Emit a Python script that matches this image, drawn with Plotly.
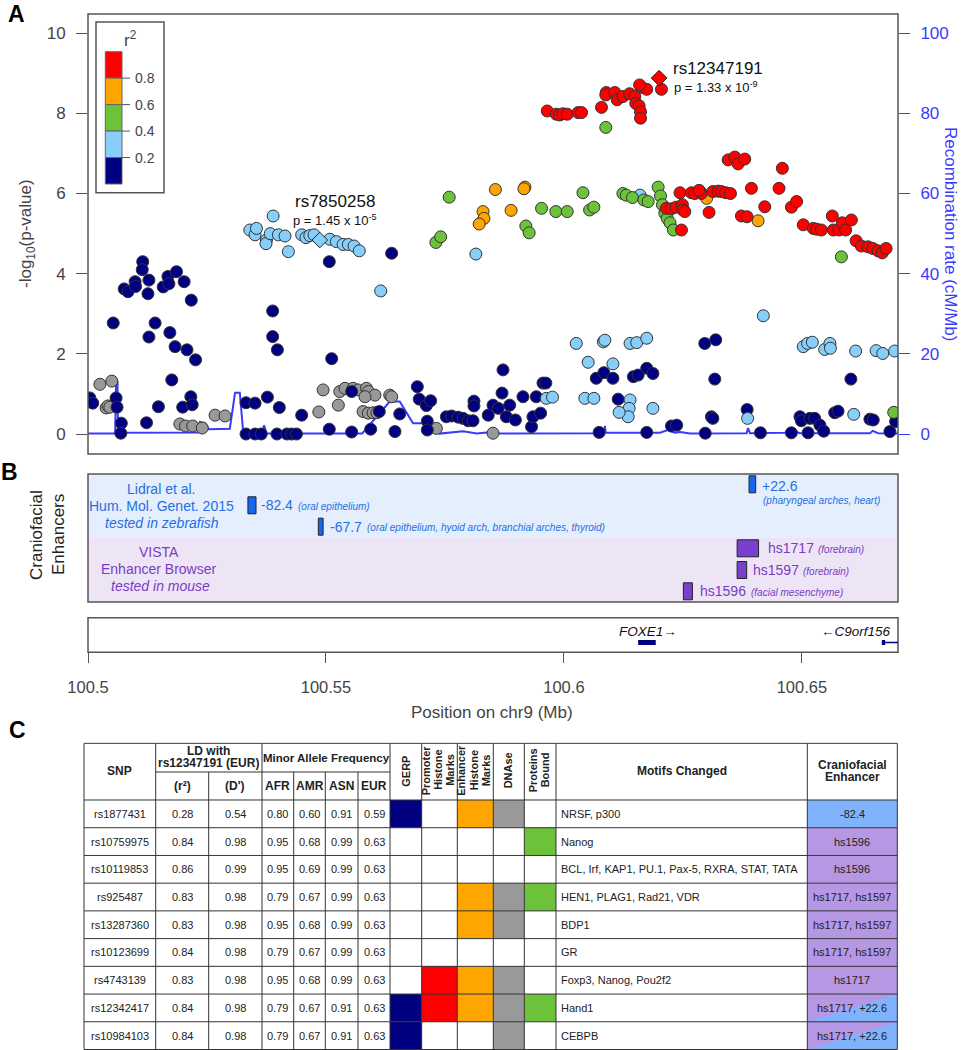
import plotly.graph_objects as go

W, H = 966, 1050
FONT = "Liberation Sans, Arial, Helvetica, sans-serif"

# ---------------- Panel A data: (position on chr9 in Mb, -log10 p) ----------------
GRAY_SNPS = [(100.5025,1.24),(100.5050,1.32),(100.5038,0.65),(100.5042,0.70),(100.5046,0.67),
             (100.5193,0.25),(100.5205,0.20),(100.5220,0.20),(100.5240,0.15),(100.5267,0.47),
             (100.5288,0.45),(100.5485,0.55),(100.5494,1.10),(100.5529,1.06),(100.5540,1.14),
             (100.5557,1.14),(100.5568,1.10),(100.5585,1.14),(100.5589,1.06),(100.5603,0.97),
             (100.5526,0.72),(100.5582,0.93),(100.5578,0.56),(100.5589,0.52),(100.5599,0.53),
             (100.5607,0.53),(100.5634,0.97),(100.5638,0.93),(100.5732,0.14),(100.5851,0.02)]

NAVY_SNPS = [(100.5004,0.90),(100.5010,0.77),(100.5053,2.77),(100.5059,0.90),(100.5061,0.67),
             (100.5070,0.27),(100.5069,0.02),(100.5076,3.62),(100.5084,3.55),(100.5099,3.80),
             (100.5100,3.68),(100.5115,4.30),(100.5114,4.10),(100.5128,3.84),(100.5126,3.50),
             (100.5123,0.28),(100.5128,2.42),(100.5141,2.77),(100.5148,0.68),(100.5158,3.67),
             (100.5168,3.93),(100.5170,3.75),(100.5186,4.05),(100.5172,2.53),(100.5176,1.35),
             (100.5183,2.18),(100.5202,3.80),(100.5208,2.10),(100.5217,3.34),(100.5226,1.85),
             (100.5199,0.67),(100.5216,0.93),(100.5219,0.73),(100.5332,0.78),(100.5351,0.77),
             (100.5332,0.00),(100.5351,0.00),(100.5364,0.00),(100.5377,0.92),(100.5388,3.07),
             (100.5388,2.43),(100.5398,2.10),(100.5402,0.66),(100.5397,0.00),(100.5418,0.00),
             (100.5428,0.00),(100.5438,0.00),(100.5449,0.47),(100.5507,4.30),(100.5512,1.88),
             (100.5507,0.12),(100.5554,1.06),(100.5554,0.05),(100.5594,0.12),(100.5645,0.06),
             (100.5612,0.56),(100.5655,0.50),(100.5692,1.18),(100.5696,0.87),(100.5711,0.71),
             (100.5720,0.83),(100.5713,0.32),(100.5713,0.10),(100.5753,0.43),(100.5764,0.45),
             (100.5778,0.42),(100.5788,0.39),(100.5799,0.33),(100.5809,0.33),(100.5811,0.82),
             (100.5811,0.70),(100.5841,0.47),(100.5851,0.72),(100.5862,0.64),(100.5870,1.02),
             (100.5872,1.60),(100.5879,0.43),(100.5886,0.72),(100.5898,0.35),(100.5914,0.93),
             (100.5932,0.18),(100.5935,0.43),(100.5942,0.93),(100.5951,0.52),(100.5956,1.27),
             (100.5962,1.27),(100.6074,0.04),(100.6068,1.39),(100.6084,1.53),(100.6103,1.39),
             (100.6114,0.87),(100.6146,1.43),(100.6156,1.47),(100.6174,1.64),(100.6174,0.04),
             (100.5638,4.51),(100.6187,1.51),(100.6296,2.26),(100.6319,2.35),(100.6317,1.37),
             (100.6603,1.37),(100.6226,0.20),(100.6237,0.22),(100.6297,0.02),(100.6310,0.43),
             (100.6313,0.39),(100.6385,0.61),(100.6413,0.03),(100.6478,0.03),(100.6496,0.43),
             (100.6499,0.33),(100.6513,0.03),(100.6517,0.39),(100.6527,0.39),(100.6538,0.22),
             (100.6546,0.07),(100.6569,0.53),(100.6576,0.57),(100.6643,0.37),(100.6650,0.35),
             (100.6685,0.06),(100.6697,0.31)]

LIGHTBLUE_SNPS = [(100.5389,5.44),(100.5340,5.09),(100.5351,4.97),(100.5354,5.13),(100.5375,4.84),
                  (100.5374,4.75),(100.5383,5.00),(100.5400,4.97),(100.5414,4.94),(100.5421,4.55),
                  (100.5449,4.97),(100.5458,4.90),(100.5466,4.95),(100.5475,4.97),(100.5508,4.86),
                  (100.5522,4.80),(100.5536,4.73),(100.5547,4.73),(100.5559,4.69),(100.5570,4.57),
                  (100.5615,3.57),(100.5815,4.49),(100.6160,5.96),(100.6026,2.26),(100.6083,2.30),
                  (100.6086,2.34),(100.6139,2.26),(100.6153,2.28),(100.6174,2.39),(100.6051,1.79),
                  (100.6103,1.75),(100.5963,0.89),(100.5976,0.92),(100.6044,0.89),(100.6063,0.89),
                  (100.6139,0.85),(100.6137,0.64),(100.6135,0.43),(100.6116,0.54),(100.6187,0.64),
                  (100.6419,2.95),(100.6503,2.18),(100.6512,2.26),(100.6522,2.29),(100.6548,2.11),
                  (100.6559,2.26),(100.6560,2.14),(100.6613,2.07),(100.6656,2.08),(100.6670,2.01),
                  (100.6695,2.07),(100.6386,0.39),(100.6609,0.49)]

GREEN_SNPS = [(100.5759,5.91),(100.5731,4.78),(100.5741,4.92),(100.5920,5.19),(100.5927,5.02),
              (100.5953,5.63),(100.5983,5.55),(100.6007,5.55),(100.6040,6.02),(100.6054,5.59),
              (100.6063,5.66),(100.6088,7.65),(100.6124,6.00),(100.6131,5.96),(100.6144,5.90),
              (100.6168,5.84),(100.6177,5.80),(100.6198,6.16),(100.6203,5.94),(100.6207,5.72),
              (100.6212,5.51),(100.6217,5.38),(100.6223,5.27),(100.6230,5.09),(100.6583,4.42),
              (100.6693,0.54)]

ORANGE_SNPS = [(100.5856,6.10),(100.5918,6.16),(100.5916,6.12),(100.5830,5.55),(100.5832,5.38),
               (100.5822,5.24),(100.5889,5.58),(100.6300,5.88),(100.6408,5.32)]

RED_SNPS = [(100.5965,8.06),(100.5984,7.98),(100.5991,7.96),(100.5998,7.99),(100.6007,7.98),
            (100.6030,8.02),(100.6037,8.02),(100.6079,8.15),(100.6089,8.52),(100.6088,8.46),
            (100.6107,8.52),(100.6112,8.34),(100.6124,8.42),(100.6138,8.49),(100.6149,8.42),
            (100.6151,8.25),(100.6158,8.19),(100.6161,8.04),(100.6161,7.88),(100.6163,8.65),
            (100.6174,8.60),(100.6159,8.71),(100.6205,8.60),(100.6345,6.84),(100.6359,6.91),
            (100.6366,6.74),(100.6380,6.86),(100.6459,6.63),(100.6244,6.02),(100.6268,6.02),
            (100.6275,6.00),(100.6286,6.05),(100.6289,6.00),(100.6284,6.08),(100.6313,6.05),
            (100.6324,6.06),(100.6331,6.05),(100.6340,6.02),(100.6350,6.00),(100.6305,5.53),
            (100.6394,6.13),(100.6373,5.44),(100.6385,5.42),(100.6422,5.67),(100.6452,6.13),
            (100.6478,5.66),(100.6489,5.80),(100.6503,5.22),(100.6215,5.63),(100.6226,5.62),
            (100.6236,5.66),(100.6249,5.72),(100.6250,5.59),(100.6254,5.55),(100.6247,5.09),
            (100.6524,5.13),(100.6531,5.11),(100.6541,5.09),(100.6564,5.44),(100.6566,5.09),
            (100.6578,5.09),(100.6585,5.27),(100.6592,5.09),(100.6604,5.34),(100.6614,4.82),
            (100.6625,4.69),(100.6639,4.67),(100.6649,4.63),(100.6660,4.57),(100.6669,4.52),
            (100.6677,4.63)]

LEAD_SNP = ("rs12347191", 100.6200, 8.88, "1.33 x 10<sup>-9</sup>")
SECOND_SNP = ("rs7850258", 100.5487, 4.84, "1.45 x 10<sup>-5</sup>")

RECOMB_POS = [100.5, 100.5057, 100.5059, 100.5062, 100.5063, 100.5130, 100.5193, 100.5231, 100.5235,
              100.5246, 100.5254, 100.5288, 100.5298, 100.5309, 100.5319, 100.5326, 100.5336, 100.5366,
              100.5370, 100.5375, 100.5445, 100.5576, 100.5634, 100.5655, 100.5683, 100.5712, 100.5739,
              100.5788, 100.5817, 100.5838, 100.5859, 100.6084, 100.6086, 100.6088, 100.6202, 100.6218,
              100.6233, 100.6244, 100.6265, 100.6384, 100.6387, 100.6391, 100.6464, 100.6475, 100.6496,
              100.6643, 100.6649, 100.6660, 100.6702]
RECOMB_RATE = [0.1, 0.1, 13.0, 13.0, 0.3, 0.3, 0.4, 0.4, 3.0,
               2.7, 1.2, 1.3, 1.3, 10.3, 10.3, 0.6, 0.1, 0.3,
               2.2, 0.1, 0.1, 0.1, 8.1, 8.1, 2.7, 2.7, 0.1,
               0.7, 0.1, 0.4, 0.1, 0.2, 2.0, 0.3, 0.3, 1.0,
               0.3, 0.5, 0.1, 0.2, 1.5, 0.2, 0.3, 1.1, 0.2,
               0.2, 0.8, 0.2, 0.1]

LEGEND_BREAKS = ["0.8", "0.6", "0.4", "0.2"]

# ---------------- Panel B data ----------------
ZF_NAMES = ["-82.4", "-67.7", "+22.6"]
ZF_START = [100.5336, 100.5484, 100.6389]
ZF_END = [100.5353, 100.5494, 100.6403]
ZF_TISSUE = ["(oral epithelium)", "(oral epithelium, hyoid arch, branchial arches, thyroid)",
             "(pharyngeal arches, heart)"]
VISTA_NAMES = ["hs1717", "hs1597", "hs1596"]
VISTA_START = [100.6364, 100.6364, 100.6251]
VISTA_END = [100.6409, 100.6384, 100.6270]
VISTA_TISSUE = ["(forebrain)", "(forebrain)", "(facial mesenchyme)"]

GENES = ["FOXE1", "C9orf156"]
GENE_START = [100.6156, 100.6668]
GENE_END = [100.6193, 100.6675]

X_TICKS = [100.5, 100.55, 100.6, 100.65]
X_TICKTEXT = ["100.5", "100.55", "100.6", "100.65"]

# ---------------- Panel C data ----------------
SNPS = ["rs1877431", "rs10759975", "rs10119853", "rs925487", "rs13287360",
        "rs10123699", "rs4743139", "rs12342417", "rs10984103"]
LD_R2 = [0.28, 0.84, 0.86, 0.83, 0.83, 0.84, 0.83, 0.84, 0.84]
LD_D = [0.54, 0.98, 0.99, 0.98, 0.98, 0.98, 0.98, 0.98, 0.98]
MAF_AFR = [0.80, 0.95, 0.95, 0.79, 0.95, 0.79, 0.95, 0.79, 0.79]
MAF_AMR = [0.60, 0.68, 0.69, 0.67, 0.68, 0.67, 0.68, 0.67, 0.67]
MAF_ASN = [0.91, 0.99, 0.99, 0.99, 0.99, 0.99, 0.99, 0.91, 0.91]
MAF_EUR = [0.59, 0.63, 0.63, 0.63, 0.63, 0.63, 0.63, 0.63, 0.63]
GERP = [1, 0, 0, 0, 0, 0, 0, 1, 1]
PROMOTER = [0, 0, 0, 0, 0, 0, 1, 1, 0]
ENHANCER = [1, 0, 0, 1, 1, 0, 1, 1, 0]
DNASE = [1, 0, 0, 1, 1, 0, 1, 1, 1]
PROTEINS = [0, 1, 0, 1, 0, 0, 0, 1, 0]
MOTIFS = ["NRSF, p300", "Nanog", "BCL, Irf, KAP1, PU.1, Pax-5, RXRA, STAT, TATA",
          "HEN1, PLAG1, Rad21, VDR", "BDP1", "GR", "Foxp3, Nanog, Pou2f2", "Hand1", "CEBPB"]
CF_ENHANCER = ["-82.4", "hs1596", "hs1596", "hs1717, hs1597", "hs1717, hs1597",
               "hs1717, hs1597", "hs1717", "hs1717, +22.6", "hs1717, +22.6"]
CF_SOURCE = ["zebrafish", "vista", "vista", "vista", "vista", "vista", "vista", "both", "both"]

# ---------------- styles ----------------
C_RED, C_ORANGE, C_GREEN, C_LBLUE, C_NAVY, C_GRAY = "#ff0000", "#ffa500", "#6cc33a", "#87cefa", "#000080", "#999999"
C_RECOMB = "#3a3aff"
C_ZF, C_VISTA = "#1f6fe6", "#7a3cc2"
C_CF_BLUE, C_CF_PURPLE = "#80b3fb", "#b597e3"


def PX(x):
    return x / W


def PY(y):
    return 1 - y / H


fig = go.Figure()
shapes = []
anns = []


def ann(text, x, y, size, color="#222", xa="center", ya="middle", xref="paper", yref="paper",
        angle=0, **kw):
    if xref == "paper":
        x = PX(x)
    if yref == "paper":
        y = PY(y)
    anns.append(dict(text=text, x=x, y=y, xref=xref, yref=yref, xanchor=xa, yanchor=ya,
                     showarrow=False, textangle=angle, font=dict(size=size, color=color, family=FONT),
                     **kw))


# ---------- Panel A traces ----------
fig.add_trace(go.Scatter(x=RECOMB_POS, y=RECOMB_RATE, mode="lines", xaxis="x", yaxis="y",
                         line=dict(color=C_RECOMB, width=2), hoverinfo="skip"))
for pts, col in [(GRAY_SNPS, C_GRAY), (NAVY_SNPS, C_NAVY), (LIGHTBLUE_SNPS, C_LBLUE),
                 (GREEN_SNPS, C_GREEN), (ORANGE_SNPS, C_ORANGE), (RED_SNPS, C_RED)]:
    fig.add_trace(go.Scatter(x=[p[0] for p in pts], y=[p[1] for p in pts], mode="markers",
                             xaxis="x", yaxis="y2",
                             marker=dict(size=12, color=col, line=dict(color="#333", width=1))))
for (name, pos, val, ptxt), col in [(SECOND_SNP, C_LBLUE), (LEAD_SNP, C_RED)]:
    fig.add_trace(go.Scatter(x=[pos], y=[val], mode="markers", xaxis="x", yaxis="y2",
                             marker=dict(symbol="diamond", size=12, color=col,
                                         line=dict(color="#222", width=1))))

# panel A box
shapes.append(dict(type="rect", xref="x domain", yref="y domain", x0=0, x1=1, y0=0, y1=1,
                   line=dict(color="#555", width=1.5)))

# r^2 legend
shapes.append(dict(type="rect", xref="paper", yref="paper", x0=PX(96), x1=PX(164), y0=PY(192.7),
                   y1=PY(22), line=dict(color="#555", width=1.5), fillcolor="white"))
legend_cols = [C_RED, C_ORANGE, C_GREEN, C_LBLUE, C_NAVY]
bh = (184 - 51.7) / 5
for i, col in enumerate(legend_cols):
    shapes.append(dict(type="rect", xref="paper", yref="paper", x0=PX(105.3), x1=PX(122),
                       y0=PY(51.7 + (i + 1) * bh), y1=PY(51.7 + i * bh), fillcolor=col,
                       line=dict(color="#666", width=1)))
for i, lab in enumerate(LEGEND_BREAKS):
    yy = 51.7 + (i + 1) * bh
    shapes.append(dict(type="line", xref="paper", yref="paper", x0=PX(122), x1=PX(130),
                       y0=PY(yy), y1=PY(yy), line=dict(color="#555", width=1)))
    ann(lab, 133, yy, 14, "#444", xa="left")
ann("r<sup>2</sup>", 130, 39, 17, "#444")

# annotations panel A
ann(SECOND_SNP[0], 293, 201.5, 17, "#111", xa="left")
ann("p = " + SECOND_SNP[3], 291, 220, 13, "#111", xa="left")
ann(LEAD_SNP[0], 671, 68.5, 17, "#111", xa="left")
ann("p = " + LEAD_SNP[3], 672, 87, 13, "#111", xa="left")
ann("-log<sub>10</sub>(p-value)", 27, 234, 17, "#444", angle=-90)
ann("Recombination rate (cM/Mb)", 951, 234, 17, C_RECOMB, angle=90)

# ---------- Panel B ----------
shapes.append(dict(type="rect", xref="x2 domain", yref="y3", x0=0, x1=1, y0=0, y1=63.3,
                   fillcolor="#e4eefc", line=dict(width=0), layer="below"))
shapes.append(dict(type="rect", xref="x2 domain", yref="y3", x0=0, x1=1, y0=63.3, y1=128,
                   fillcolor="#ede5f6", line=dict(width=0), layer="below"))
shapes.append(dict(type="rect", xref="x2 domain", yref="y3 domain", x0=0, x1=1, y0=0, y1=1,
                   line=dict(color="#555", width=1.5)))
ZF_ROWS = [31.3, 52.7, 10.3]
ZF_SHIFT = [3, 5, 4]
ZF_TISSUE_X = [296, 365, 761]
VISTA_ROWS = [74.3, 96.0, 117.3]
VISTA_SHIFT = [7, 4, 6]
VISTA_TISSUE_X = [816, 801, 749]
for i in range(3):
    yc = ZF_ROWS[i]
    shapes.append(dict(type="rect", xref="x2", yref="y3", x0=ZF_START[i], x1=ZF_END[i],
                       y0=yc - 8.5, y1=yc + 8.5, fillcolor="#1766ee", line=dict(color="#223", width=1)))
    if i < 2:
        ann(ZF_NAMES[i], ZF_END[i], yc, 14, C_ZF, xa="left", xref="x2", yref="y3", xshift=ZF_SHIFT[i])
        ann("<i>" + ZF_TISSUE[i] + "</i>", ZF_TISSUE_X[i], 474 + yc + 1, 10, C_ZF, xa="left")
    else:
        ann(ZF_NAMES[i], ZF_END[i], yc + 1.5, 14, C_ZF, xa="left", xref="x2", yref="y3", xshift=ZF_SHIFT[i])
        ann("<i>" + ZF_TISSUE[i] + "</i>", ZF_TISSUE_X[i], 474 + yc + 16.5, 10, C_ZF, xa="left")
for i in range(3):
    yc = VISTA_ROWS[i]
    shapes.append(dict(type="rect", xref="x2", yref="y3", x0=VISTA_START[i], x1=VISTA_END[i],
                       y0=yc - 8.5, y1=yc + 8.5, fillcolor="#7b3fcf", line=dict(color="#222", width=1)))
    ann(VISTA_NAMES[i], VISTA_END[i], yc, 14, C_VISTA, xa="left", xref="x2", yref="y3", xshift=VISTA_SHIFT[i])
    ann("<i>" + VISTA_TISSUE[i] + "</i>", VISTA_TISSUE_X[i], 474 + yc + 1, 10, C_VISTA, xa="left")

ann("Lidral et al.", 161, 488.5, 14, C_ZF)
ann("Hum. Mol. Genet. 2015", 161, 505.5, 14, C_ZF)
ann("<i>tested in zebrafish</i>", 162, 522.5, 14, C_ZF)
ann("VISTA", 159, 551.5, 14, C_VISTA)
ann("Enhancer Browser", 159, 569, 14, C_VISTA)
ann("<i>tested in mouse</i>", 160, 586, 14, C_VISTA)
ann("Craniofacial", 36, 535, 17, "#222", angle=-90)
ann("Enhancers", 58, 535, 17, "#222", angle=-90)

# gene track
shapes.append(dict(type="rect", xref="x3 domain", yref="y4 domain", x0=0, x1=1, y0=0, y1=1,
                   line=dict(color="#555", width=1.5)))
for i in range(2):
    shapes.append(dict(type="rect", xref="x3", yref="y4", x0=GENE_START[i], x1=GENE_END[i],
                       y0=0.21, y1=0.355, fillcolor=C_NAVY, line=dict(width=0)))
shapes.append(dict(type="line", xref="x3", yref="y4", x0=GENE_END[1], x1=100.6702, y0=0.283, y1=0.283,
                   line=dict(color=C_NAVY, width=1.5)))
ann("<i>FOXE1</i>\u2192", 648, 631.5, 13.5, "#111")
ann("\u2190<i>C9orf156</i>", 893, 631.5, 13.5, "#111", xa="right")
ann("Position on chr9 (Mb)", 492, 712, 17, "#444")

# panel letters
ann("<b>A</b>", 16, 14, 23, "#000")
ann("<b>B</b>", 9, 472, 23, "#000")
ann("<b>C</b>", 17, 730, 23, "#000")

# ---------- Panel C table ----------
COL_EDGES = [84, 155.7, 208.7, 262, 293.7, 325.3, 358, 390, 421.7, 457.3, 493.3, 524.3, 556, 807.3, 897.3]
HEADER_TOP = -2.045
HEADER_MID = -1.01
NROW = len(SNPS)


def cell(c, r, color):
    shapes.append(dict(type="rect", xref="x4", yref="y5", x0=COL_EDGES[c], x1=COL_EDGES[c + 1],
                       y0=r, y1=r + 1, fillcolor=color, line=dict(width=0)))


for r in range(NROW):
    for c, flags, col in [(7, GERP, C_NAVY), (8, PROMOTER, C_RED), (9, ENHANCER, C_ORANGE),
                          (10, DNASE, C_GRAY), (11, PROTEINS, C_GREEN)]:
        if flags[r]:
            cell(c, r, col)
    src = CF_SOURCE[r]
    if src == "zebrafish":
        cell(13, r, C_CF_BLUE)
    else:
        cell(13, r, C_CF_PURPLE)
        if src == "both":
            x0, x1 = COL_EDGES[13], COL_EDGES[14]
            shapes.append(dict(type="path", xref="x4", yref="y5",
                               path=f"M {x0},{r + 1} L {x1},{r + 1} L {x1},{r} Z",
                               fillcolor=C_CF_BLUE, line=dict(width=0)))

LC = "#333"
for r in range(NROW + 1):
    shapes.append(dict(type="line", xref="x4", yref="y5", x0=COL_EDGES[0], x1=COL_EDGES[-1], y0=r, y1=r,
                       line=dict(color=LC, width=1)))
shapes.append(dict(type="line", xref="x4", yref="y5", x0=COL_EDGES[0], x1=COL_EDGES[-1],
                   y0=HEADER_TOP, y1=HEADER_TOP, line=dict(color=LC, width=1)))
shapes.append(dict(type="line", xref="x4", yref="y5", x0=COL_EDGES[1], x1=COL_EDGES[7],
                   y0=HEADER_MID, y1=HEADER_MID, line=dict(color=LC, width=1)))
for i, xe in enumerate(COL_EDGES):
    y0 = HEADER_MID if i in (2, 4, 5, 6) else HEADER_TOP
    shapes.append(dict(type="line", xref="x4", yref="y5", x0=xe, x1=xe, y0=y0, y1=NROW,
                       line=dict(color=LC, width=1)))


def cc(c):
    return (COL_EDGES[c] + COL_EDGES[c + 1]) / 2


TF = 11
for r in range(NROW):
    yc = r + 0.5
    ann(SNPS[r], cc(0), yc, TF, xref="x4", yref="y5")
    for c, arr in [(1, LD_R2), (2, LD_D), (3, MAF_AFR), (4, MAF_AMR), (5, MAF_ASN), (6, MAF_EUR)]:
        ann(f"{arr[r]:.2f}", cc(c), yc, TF, xref="x4", yref="y5")
    ann(MOTIFS[r], COL_EDGES[12] + 3, yc, TF, xa="left", xref="x4", yref="y5")
    ann(CF_ENHANCER[r], cc(13), yc, TF, xref="x4", yref="y5")

HF = 12
ann("<b>SNP</b>", cc(0), -1.05, HF, xref="x4", yref="y5")
ann("<b>LD with</b>", (COL_EDGES[1] + COL_EDGES[3]) / 2, -1.77, HF, xref="x4", yref="y5")
ann("<b>rs12347191 (EUR)</b>", (COL_EDGES[1] + COL_EDGES[3]) / 2, -1.33, HF, xref="x4", yref="y5")
ann("<b>Minor Allele Frequency</b>", (COL_EDGES[3] + COL_EDGES[7]) / 2, -1.53, 11.5, xref="x4", yref="y5")
for c, t in [(1, "(r\u00b2)"), (2, "(D')"), (3, "AFR"), (4, "AMR"), (5, "ASN"), (6, "EUR")]:
    ann("<b>" + t + "</b>", cc(c), -0.5, HF, xref="x4", yref="y5")
RF = 11
ann("<b>GERP</b>", cc(7), -1.05, RF, xref="x4", yref="y5", angle=-90)
for xx, t in [(426, "Promoter"), (438.5, "Histone"), (450.5, "Marks"),
              (461.5, "Enhancer"), (474, "Histone"), (486, "Marks"),
              (508, "DNAse"), (533, "Proteins"), (545, "Bound")]:
    ann("<b>" + t + "</b>", xx, -1.07, RF, xref="x4", yref="y5", angle=-90)
ann("<b>Motifs Changed</b>", cc(12), -1.05, HF, xref="x4", yref="y5")
ann("<b>Craniofacial</b>", cc(13), -1.27, HF, xref="x4", yref="y5")
ann("<b>Enhancer</b>", cc(13), -0.84, HF, xref="x4", yref="y5")

# ---------- layout ----------
XR = [100.5, 100.6702]
XDOM = [PX(88), PX(898)]
hidden = dict(visible=False, showgrid=False, zeroline=False, automargin=False)

fig.update_layout(
    width=W, height=H, margin=dict(l=0, r=0, t=0, b=0, pad=0, autoexpand=False),
    paper_bgcolor="white", plot_bgcolor="rgba(0,0,0,0)", showlegend=False,
    font=dict(family=FONT, color="#222"),
    xaxis=dict(domain=XDOM, range=XR, anchor="y", **hidden),
    yaxis=dict(domain=[PY(454), PY(14)], range=[-4.99, 104.8], anchor="x", side="right",
               tickvals=[0, 20, 40, 60, 80, 100], ticks="outside", ticklen=11, tickwidth=1.3,
               tickcolor=C_RECOMB, tickfont=dict(size=17, color=C_RECOMB), ticklabelstandoff=7,
               showgrid=False, zeroline=False, showline=False, automargin=False),
    yaxis2=dict(overlaying="y", anchor="x", side="left", range=[-0.499, 10.48],
                tickvals=[0, 2, 4, 6, 8, 10], ticks="outside", ticklen=11, tickwidth=1.3,
                tickcolor="#555", tickfont=dict(size=17, color="#444"), ticklabelstandoff=7,
                showgrid=False, zeroline=False, showline=False, automargin=False),
    xaxis2=dict(domain=XDOM, range=XR, anchor="y3", **hidden),
    yaxis3=dict(domain=[PY(602), PY(474)], range=[128, 0], anchor="x2", **hidden),
    xaxis3=dict(domain=XDOM, range=XR, anchor="y4", tickvals=X_TICKS, ticktext=X_TICKTEXT,
                ticks="outside", ticklen=10, tickwidth=1.3, tickcolor="#555",
                tickfont=dict(size=16.5, color="#444"), ticklabelstandoff=10,
                showgrid=False, zeroline=False, showline=False, automargin=False),
    yaxis4=dict(domain=[PY(652.3), PY(617.7)], range=[0, 1], anchor="x3", **hidden),
    xaxis4=dict(domain=[PX(83), PX(898.3)], range=[83, 898.3], anchor="y5", **hidden),
    yaxis5=dict(domain=[0, PY(742.3)], range=[9.018, -2.081], anchor="x4", **hidden),
    shapes=shapes, annotations=anns,
)

fig.write_html("out.html", config={"displayModeBar": False},
               post_script="document.body.style.margin='0';document.body.style.overflow='hidden';")
